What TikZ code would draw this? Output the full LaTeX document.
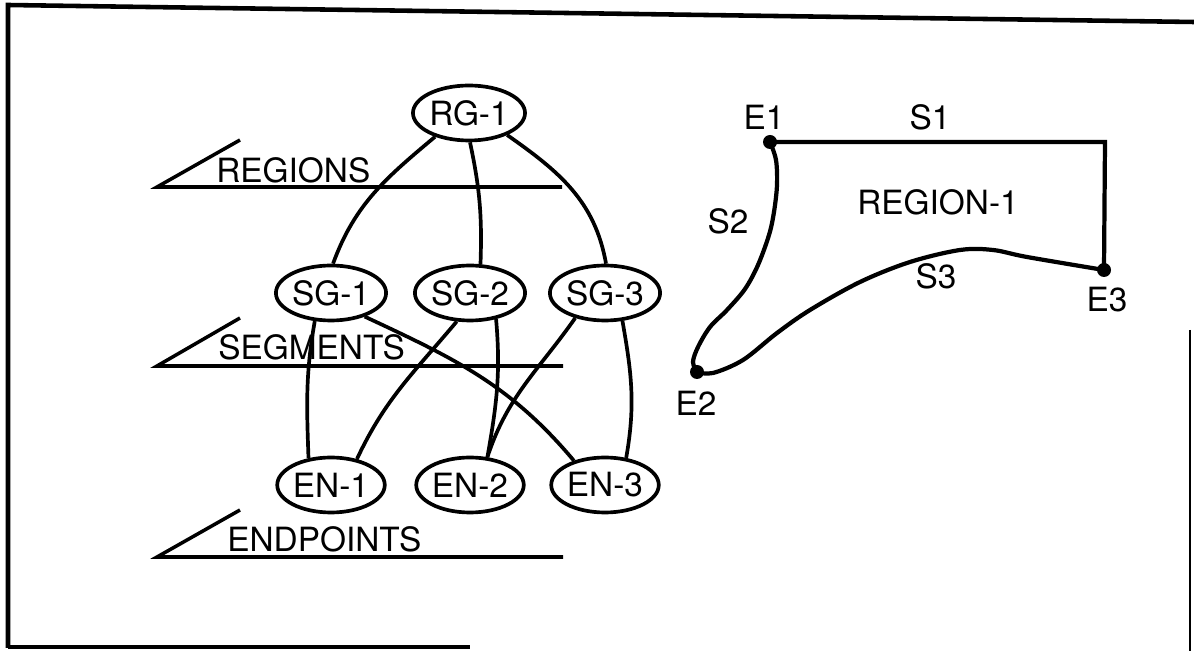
\documentclass[tikz,border=0pt]{standalone}
\usepackage{fontspec}
\setmainfont{TeX Gyre Heros}
\usetikzlibrary{shapes.geometric}
\begin{document}
\begin{tikzpicture}[x=0.02cm,y=0.02cm,
  every node/.style={font=\fontsize{19}{21}\selectfont},
  gnode/.style={draw,ellipse,line width=2.1pt,minimum width=2.08cm,minimum height=1.1cm,inner sep=0pt},
  edge/.style={line width=2.1pt},
  redge/.style={line width=2.4pt},
  frame/.style={line width=2.6pt},
  lvl/.style={line width=2pt},
  lbl/.style={anchor=base west,inner sep=0pt},
  txt/.style={inner sep=0pt},
  dot/.style={circle,fill,inner sep=0pt,minimum size=0.28cm}]
\useasboundingbox (0,0) rectangle (1194,-651);
% frame
\draw[frame] (8,-648) -- (8,-5) -- (1194,-22);
\draw[line width=1.8pt] (8,-647) -- (470,-647);
\draw[line width=1.6pt] (1190,-330) -- (1190,-651);
% graph nodes
\node[gnode] (rg1) at (469,-113) {RG-1};
\node[gnode] (sg1) at (331,-293) {SG-1};
\node[gnode] (sg2) at (470,-293) {SG-2};
\node[gnode] (sg3) at (605,-293) {SG-3};
\node[gnode] (en1) at (331,-485) {EN-1};
\node[gnode] (en2) at (470,-485) {EN-2};
\node[gnode] (en3) at (605,-485) {EN-3};
% level markers
\draw[lvl] (240,-140) -- (157,-187) -- (562,-187);
\node[lbl] (regions) at (216,-183) {REGIONS};
\draw[lvl] (240,-318) -- (157,-366) -- (563,-366);
\node[lbl] (segments) at (218,-360) {SEGMENTS};
\draw[lvl] (240,-510) -- (157,-557) -- (563,-557);
\node[lbl] (endpoints) at (227,-552) {ENDPOINTS};
% connectors
\draw[edge] (rg1.215) to[out=220,in=70] (sg1.86);
\draw[edge] (rg1.-88) to[out=-78,in=88] (sg2.70);
\draw[edge] (rg1.-30) to[out=-35,in=100] (sg3.88);
\draw[edge] (sg1.-120) to[out=-100,in=92] (en1.130);
\draw[edge] (sg1.-35) to[out=-25,in=130] (en3.142);
\draw[edge] (sg2.-115) to[out=-130,in=65] (en1.45);
\draw[edge] (sg2.-45) to[out=-85,in=80] (en2.58);
\draw[edge] (sg3.-140) to[out=-125,in=72] (en2.58);
\draw[edge] (sg3.-58) to[out=-80,in=80] (en3.52);
% region figure
\coordinate (E1) at (770,-142);
\coordinate (C) at (1105,-142);
\coordinate (E3) at (1104,-270);
\coordinate (E2) at (697,-372);
\draw[redge] (E1) -- (C) -- (E3);
\draw[redge] plot[smooth,tension=0.55] coordinates {(770,-142)(776,-160)(777,-185)(774,-212)(769,-235)(758,-265)(745,-289)(727,-310)(710,-327)(698,-347)(693,-362)(697,-372)};
\draw[redge] plot[smooth,tension=0.55] coordinates {(697,-372)(713,-373)(743,-360)(777,-333)(810,-310)(860,-282)(910,-262)(960,-250)(993,-250)(1027,-257)(1104,-270)};
\node[dot] (d1) at (E1) {};
\node[dot] (d2) at (E2) {};
\node[dot] (d3) at (E3) {};
\node[txt] (e1l) at (764,-117) {E1};
\node[txt] (s1l) at (930,-117) {S1};
\node[txt] (reg) at (938,-202) {REGION-1};
\node[txt] (s2l) at (728,-221) {S2};
\node[txt] (s3l) at (936,-276) {S3};
\node[txt] (e3l) at (1107,-300) {E3};
\node[txt] (e2l) at (696,-403) {E2};
\end{tikzpicture}
\end{document}
